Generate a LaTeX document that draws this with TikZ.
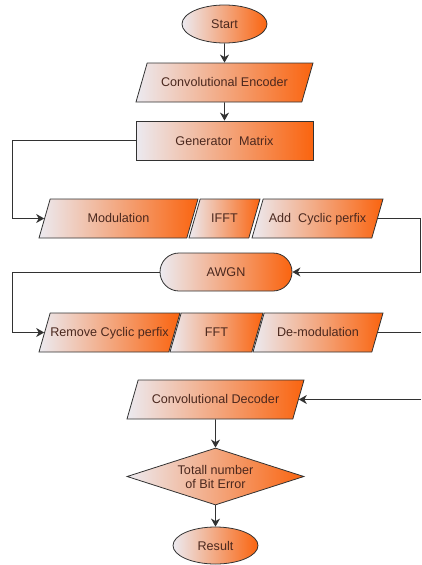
\documentclass[tikz,border=0pt]{standalone}
\usepackage{fontspec}
\setmainfont{Liberation Sans}
\usetikzlibrary{shapes.geometric,shapes.misc,arrows.meta}
\definecolor{lc}{RGB}{236,234,240}
\definecolor{oc}{RGB}{250,100,15}
\definecolor{tc}{RGB}{75,40,30}
\definecolor{ec}{RGB}{50,50,50}
\begin{document}
\begin{tikzpicture}[x=1pt,y=-1pt,
 box/.style={draw=ec, line width=0.8pt, left color=lc, right color=oc, text=tc,
   font=\fontsize{12.6}{14}\selectfont, inner sep=0pt},
 para/.style={box, trapezium, trapezium left angle=74, trapezium right angle=106,
   trapezium stretches body, text height=9pt, text depth=2pt, inner xsep=0pt, inner ysep=14pt},
 conn/.style={draw=ec, line width=0.9pt},
 arr/.style={conn, -{Stealth[length=8pt,width=9pt,inset=2.5pt]}}]
\useasboundingbox (0,0) rectangle (421,565);

\node[box, ellipse, minimum width=85pt, minimum height=38pt] (start) at (224.5,24) {Start};
\node[para, minimum width=177pt] (enc) at (224.5,82.5) {Convolutional Encoder};
\node[box, rectangle, minimum width=177pt, minimum height=39pt] (gen) at (224.5,140.5) {Generator~~Matrix};

\node[para, minimum width=159pt] (mod) at (118.5,218.5) {Modulation};
\node[para, minimum width=71pt] (ifft) at (224.5,218.5) {IFFT};
\node[para, minimum width=131pt] (add) at (317.5,218.5) {Add~ Cyclic perfix};

\node[box, rounded rectangle, minimum width=132pt, minimum height=38pt] (awgn) at (226,272) {AWGN};

\node[para, minimum width=141pt] (rem) at (109.5,332.5) {Remove Cyclic perfix};
\node[para, minimum width=93pt] (fft) at (216.5,332.5) {FFT};
\node[para, minimum width=130pt] (dem) at (318,332.5) {De-modulation};

\node[para, minimum width=177pt] (dec) at (215.5,399.5) {Convolutional Decoder};
\node[box, diamond, shape aspect=3.1, minimum width=177pt, minimum height=57pt, align=center] (err) at (215.5,476.5) {Totall number\\of Bit Error};
\node[box, ellipse, minimum width=85pt, minimum height=37pt] (res) at (215.5,545.5) {Result};

\coordinate (L1) at (12,140.5);
\coordinate (R1) at (420,218.5);
\coordinate (L2) at (12,272);
\coordinate (R3) at (421,332.5);
\coordinate (R4) at (421,399.5);

\draw[arr] (start) -- (enc);
\draw[arr] (enc) -- (gen);
\draw[arr] (gen.west) -- (L1) |- (mod.left side);
\draw[arr] (add.right side) -- (R1) |- (awgn.east);
\draw[arr] (awgn.west) -- (L2) |- (rem.left side);
\draw[conn] (dem.right side) -- (R3);
\draw[arr] (R4) -- (dec.right side);
\draw[arr] (dec) -- (err);
\draw[arr] (err) -- (res);
\end{tikzpicture}
\end{document}
